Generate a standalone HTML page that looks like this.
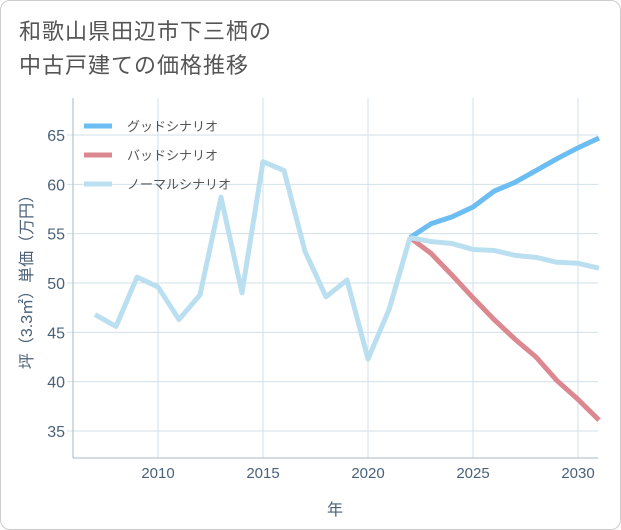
<!DOCTYPE html>
<html><head><meta charset="utf-8"><style>
html,body{margin:0;padding:0;background:#fff;}
#card{position:absolute;left:0;top:0;width:619px;height:528px;border:1px solid #ccc;border-radius:10px;background:#fff;overflow:hidden;}
#title{position:absolute;left:18px;top:14px;font:22px "Liberation Sans","Noto Sans CJK JP",sans-serif;color:#555;line-height:34px;letter-spacing:1px;}
svg text{font-family:"Liberation Sans","Noto Sans CJK JP",sans-serif;}
</style></head><body>
<div id="card">
<div id="title">和歌山県田辺市下三栖の<br>中古戸建ての価格推移</div>
<svg id="chart" width="621" height="530" style="position:absolute;left:0;top:0"></svg>
</div>
<script>
const years=[2007,2008,2009,2010,2011,2012,2013,2014,2015,2016,2017,2018,2019,2020,2021,2022];
const normalHist=[46.8,45.6,50.6,49.6,46.3,48.8,58.7,49.0,62.3,61.4,53.2,48.6,50.3,42.3,47.3,54.6];
const futureYears=[2022,2023,2024,2025,2026,2027,2028,2029,2030,2031];
const goodVals=[54.6,56.0,56.7,57.7,59.3,60.2,61.4,62.6,63.7,64.7];
const badVals=[54.6,53.0,50.8,48.5,46.3,44.3,42.5,40.1,38.2,36.1];
const normalVals=[54.6,54.2,54.0,53.4,53.3,52.8,52.6,52.1,52.0,51.5];
const xTicks=[2010,2015,2020,2025,2030];
const yTicks=[35,40,45,50,55,60,65];
const legendLabels=["グッドシナリオ","バッドシナリオ","ノーマルシナリオ"];
const colors=["#6bbdf2","#dc8891","#badff0"];

const NS="http://www.w3.org/2000/svg";
const svg=document.getElementById('chart');
const L=72,R=597,T=97,B=457;
const x=v=>157+(v-2010)*21;
const y=v=>134+(65-v)*(296/30);
function mk(tag,attrs,parent){const e=document.createElementNS(NS,tag);for(const k in attrs)e.setAttribute(k,attrs[k]);(parent||svg).appendChild(e);return e;}

for(const t of xTicks){
  const g=mk('line',{x1:x(t),x2:x(t),y1:T,y2:B,stroke:'#d3e0ea','stroke-width':1});
  
  
  const tx=mk('text',{x:x(t),y:477,'text-anchor':'middle','font-size':15,fill:'#4a6178'});
  tx.textContent=t;
  
  
}
for(const t of yTicks){
  const g=mk('line',{x1:L-6,x2:R,y1:y(t),y2:y(t),stroke:'#d3e0ea','stroke-width':1});
  
  
  const tx=mk('text',{x:L-8,y:y(t)+6,'text-anchor':'end','font-size':16,fill:'#4a6178'});
  tx.textContent=t;
  
  
}
const ax=mk('line',{x1:L,x2:L,y1:T,y2:B,stroke:'#aab8c4','stroke-width':1});


const ax2=mk('line',{x1:L,x2:R,y1:B,y2:B,stroke:'#aab8c4','stroke-width':1});



const xt=mk('text',{x:334,y:514,'text-anchor':'middle','font-size':16,fill:'#4a6178'});
xt.textContent='年';


const yt=mk('text',{x:0,y:0,'text-anchor':'middle','font-size':16,fill:'#4a6178',transform:'translate(31,277) rotate(-90)'});
yt.textContent='坪（3.3㎡）単価（万円）';



function line(xs,vs,color,name){
  const p=mk('polyline',{points:xs.map((v,i)=>x(v)+','+y(vs[i])).join(' '),fill:'none',stroke:color,'stroke-width':5,'stroke-linejoin':'round'});
  
  
}
line(futureYears,goodVals,colors[0],'good-scenario-line');
line(futureYears,badVals,colors[1],'bad-scenario-line');
line(futureYears,normalVals,colors[2],'normal-scenario-line');
line(years,normalHist,colors[2],'historical-line');

legendLabels.forEach((lab,i)=>{
  const yy=125+i*29;
  const l=mk('line',{x1:83,x2:111,y1:yy,y2:yy,stroke:colors[i],'stroke-width':5});
  
  
  const t=mk('text',{x:126,y:yy+5,'font-size':13,fill:'#555'});
  t.textContent=lab;
  
  
});
</script>
</body></html>
